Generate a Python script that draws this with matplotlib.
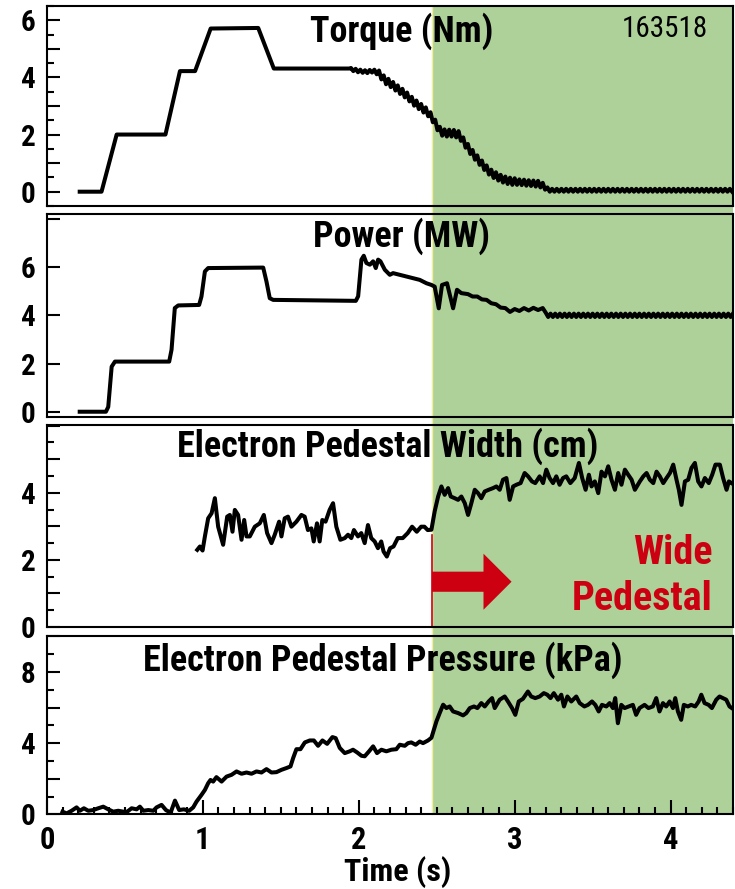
import matplotlib
matplotlib.use("Agg")
import matplotlib.pyplot as plt
import numpy as np
from matplotlib import transforms
from matplotlib.patches import Rectangle
from matplotlib.lines import Line2D
from matplotlib.ticker import MultipleLocator, FuncFormatter

plt.rcParams['font.family'] = ['Roboto Condensed', 'DejaVu Sans']
plt.rcParams['font.weight'] = 'bold'

SHOT = "163518"
T_WIDE = 2.47      # start of the wide pedestal phase (s)
T_END = 4.4
GREEN = '#aed19a'
RED = '#cc0011'

# --- Torque (Nm): ramp-up, then sampled every 15 ms once the modulation starts
torque_t = [0.21, 0.35, 0.447, 0.76, 0.853, 0.95, 1.05, 1.355, 1.455, 1.94]
torque_v = [0.0, 0.0, 2.0, 2.0, 4.22, 4.22, 5.71, 5.73, 4.31, 4.31]
torque_mod_t0 = 1.95
torque_mod_dt = 0.015
torque_mod_v = [
    4.33, 4.22, 4.30, 4.18, 4.27, 4.16, 4.25, 4.15, 4.26, 4.17,
    4.27, 4.11, 4.24, 3.93, 4.07, 3.76, 3.95, 3.66, 3.84, 3.54,
    3.72, 3.42, 3.60, 3.30, 3.47, 3.16, 3.32, 3.01, 3.19, 2.89,
    3.07, 2.77, 2.95, 2.64, 2.78, 2.43, 2.52, 2.15, 2.27, 1.96,
    2.18, 1.93, 2.17, 1.93, 2.16, 1.90, 2.12, 1.78, 1.90, 1.54,
    1.67, 1.32, 1.46, 1.12, 1.27, 0.94, 1.09, 0.76, 0.92, 0.60,
    0.77, 0.48, 0.68, 0.39, 0.59, 0.32, 0.53, 0.27, 0.49, 0.24,
    0.47, 0.24, 0.43, 0.23, 0.42, 0.21, 0.40, 0.20, 0.39, 0.18,
    0.38, 0.15, 0.31, 0.07, 0.15, 0.00,
    0.10, 0.00, 0.10, 0.00, 0.10, 0.00, 0.10, 0.00, 0.10, 0.00,
    0.10, 0.00, 0.10, 0.00, 0.10, 0.00, 0.10, 0.00, 0.10, 0.00,
    0.10, 0.00, 0.10, 0.00, 0.10, 0.00, 0.10, 0.00, 0.10, 0.00,
    0.10, 0.00, 0.10, 0.00, 0.10, 0.00, 0.10, 0.00, 0.10, 0.00,
    0.10, 0.00, 0.10, 0.00, 0.10, 0.00, 0.10, 0.00, 0.10, 0.00,
    0.10, 0.00, 0.10, 0.00, 0.10, 0.00, 0.10, 0.00, 0.10, 0.00,
    0.10, 0.00, 0.10, 0.00, 0.10, 0.00, 0.10, 0.00, 0.10, 0.00,
    0.10, 0.00, 0.10, 0.00, 0.10, 0.00, 0.10, 0.00,
]

# --- Injected power (MW)
power_t = [0.21, 0.378, 0.393, 0.415, 0.436, 0.784, 0.799, 0.82, 0.842, 0.976,
           0.991, 1.013, 1.034, 1.387, 1.408, 1.429, 1.451, 1.981, 1.996, 2.017,
           2.032, 2.049, 2.071, 2.092, 2.109, 2.124, 2.139, 2.167, 2.199, 2.220,
           2.263, 2.306, 2.348, 2.391, 2.434, 2.466, 2.487, 2.513, 2.534, 2.566,
           2.605, 2.630, 2.658, 2.70, 2.73, 2.76, 2.79, 2.82, 2.85, 2.88,
           2.91, 2.94, 2.97, 3.00, 3.03, 3.06, 3.09, 3.12, 3.15, 3.18, 3.20]
power_v = [0.0, 0.0, 0.2, 1.87, 2.08, 2.08, 2.57, 4.30, 4.41, 4.43,
           4.78, 5.82, 5.96, 5.98, 5.40, 4.71, 4.64, 4.60, 4.79, 6.31,
           6.47, 6.17, 6.10, 6.24, 5.96, 6.31, 6.24, 5.89, 5.68, 5.75,
           5.68, 5.61, 5.54, 5.47, 5.33, 5.26, 5.19, 4.29, 5.26, 5.33,
           4.29, 5.06, 4.92, 4.88, 4.78, 4.78, 4.66, 4.64, 4.50, 4.46,
           4.32, 4.30, 4.14, 4.26, 4.18, 4.30, 4.20, 4.31, 4.22, 4.30, 4.10]
power_mod_t0 = 3.215
power_mod_dt = 0.015
power_mod_v = [
    3.93, 4.07, 3.93, 4.07, 3.93, 4.07, 3.93, 4.07, 3.93, 4.07,
    3.93, 4.07, 3.93, 4.07, 3.93, 4.07, 3.93, 4.07, 3.93, 4.07,
    3.93, 4.07, 3.93, 4.07, 3.93, 4.07, 3.93, 4.07, 3.93, 4.07,
    3.93, 4.07, 3.93, 4.07, 3.93, 4.07, 3.93, 4.07, 3.93, 4.07,
    3.93, 4.07, 3.93, 4.07, 3.93, 4.07, 3.93, 4.07, 3.93, 4.07,
    3.93, 4.07, 3.93, 4.07, 3.93, 4.07, 3.93, 4.07, 3.93, 4.07,
    3.93, 4.07, 3.93, 4.07, 3.93, 4.07, 3.93, 4.07, 3.93, 4.07,
    3.93, 4.07, 3.93, 4.07, 3.93, 4.07, 3.93, 4.07, 3.93, 4.07,
]

# --- Electron pedestal width (cm)
width_t = [0.964, 0.981, 0.998, 1.013, 1.034, 1.056, 1.077, 1.098, 1.130, 1.156,
           1.173, 1.190, 1.205, 1.226, 1.248, 1.265, 1.280, 1.301, 1.333, 1.365,
           1.391, 1.412, 1.440, 1.461, 1.489, 1.504, 1.525, 1.546, 1.568, 1.600,
           1.632, 1.653, 1.674, 1.696, 1.711, 1.732, 1.749, 1.766, 1.787, 1.813,
           1.835, 1.856, 1.882, 1.910, 1.931, 1.952, 1.969, 1.995, 2.016, 2.038,
           2.059, 2.080, 2.102, 2.123, 2.144, 2.159, 2.180, 2.201, 2.223, 2.250,
           2.282, 2.314, 2.342, 2.372, 2.400, 2.421, 2.442, 2.466, 2.487, 2.509,
           2.530, 2.551, 2.573, 2.590, 2.615, 2.637, 2.658, 2.680, 2.701, 2.722,
           2.744, 2.765, 2.786, 2.808, 2.833, 2.861, 2.883, 2.904, 2.925, 2.947,
           2.968, 2.990, 3.011, 3.038, 3.064, 3.086, 3.111, 3.132, 3.160, 3.182,
           3.203, 3.224, 3.246, 3.267, 3.288, 3.310, 3.331, 3.357, 3.385, 3.412,
           3.433, 3.455, 3.476, 3.493, 3.514, 3.536, 3.557, 3.579, 3.600, 3.621,
           3.643, 3.664, 3.685, 3.707, 3.728, 3.750, 3.771, 3.803, 3.825, 3.846,
           3.867, 3.889, 3.910, 3.931, 3.953, 3.974, 3.996, 4.017, 4.038, 4.053,
           4.070, 4.092, 4.113, 4.134, 4.156, 4.177, 4.198, 4.220, 4.245, 4.267,
           4.288, 4.316, 4.337, 4.359, 4.374, 4.391]
width_v = [2.30, 2.40, 2.28, 2.70, 3.24, 3.39, 3.84, 2.99, 2.45, 3.29,
           3.34, 2.84, 3.49, 3.34, 2.60, 3.19, 2.70, 2.70, 2.99, 3.09,
           3.34, 2.80, 2.50, 2.75, 3.14, 2.70, 3.24, 3.29, 2.99, 3.14,
           3.34, 3.29, 2.89, 2.94, 2.55, 3.09, 2.55, 3.19, 3.14, 3.49,
           3.69, 2.99, 2.60, 2.65, 2.75, 2.65, 2.89, 2.70, 2.80, 2.50,
           3.04, 2.65, 2.55, 2.35, 2.55, 2.25, 2.10, 2.35, 2.40, 2.65,
           2.65, 2.80, 2.99, 2.84, 2.99, 2.99, 2.89, 2.90, 3.45, 3.89,
           4.19, 3.94, 4.14, 3.89, 3.84, 3.79, 3.89, 3.69, 3.34, 3.69,
           4.09, 3.99, 3.84, 4.04, 4.09, 4.14, 4.19, 4.09, 4.39, 4.44,
           3.79, 4.19, 4.24, 4.29, 4.59, 4.49, 4.34, 4.29, 4.49, 4.29,
           4.69, 4.44, 4.29, 4.49, 4.24, 4.44, 4.49, 4.29, 4.44, 4.89,
           4.44, 4.09, 4.54, 4.19, 4.34, 3.99, 4.63, 4.49, 4.79, 4.39,
           4.09, 4.59, 4.24, 4.69, 4.54, 4.39, 4.09, 4.34, 4.49, 4.59,
           4.39, 4.29, 4.63, 4.49, 4.29, 4.44, 4.59, 4.84, 4.39, 4.09,
           3.64, 4.34, 4.39, 4.74, 4.89, 4.34, 4.19, 4.44, 4.29, 4.54,
           4.84, 4.84, 4.44, 4.09, 4.34, 4.29]

# --- Electron pedestal pressure (kPa)
pres_t = [0.100, 0.126, 0.158, 0.190, 0.211, 0.237, 0.265, 0.297, 0.329, 0.361,
          0.393, 0.425, 0.457, 0.489, 0.515, 0.543, 0.575, 0.596, 0.618, 0.650,
          0.682, 0.703, 0.735, 0.763, 0.793, 0.821, 0.848, 0.878, 0.912, 0.938,
          0.959, 0.991, 1.013, 1.034, 1.049, 1.066, 1.087, 1.120, 1.152, 1.184,
          1.216, 1.248, 1.280, 1.312, 1.344, 1.376, 1.408, 1.440, 1.472, 1.504,
          1.536, 1.562, 1.579, 1.600, 1.626, 1.654, 1.686, 1.712, 1.739, 1.767,
          1.797, 1.831, 1.852, 1.878, 1.910, 1.942, 1.963, 1.989, 2.017, 2.038,
          2.066, 2.092, 2.117, 2.145, 2.177, 2.209, 2.241, 2.263, 2.295, 2.316,
          2.337, 2.365, 2.391, 2.412, 2.444, 2.466, 2.487, 2.498, 2.519, 2.541,
          2.562, 2.583, 2.605, 2.637, 2.669, 2.690, 2.712, 2.739, 2.761, 2.786,
          2.808, 2.833, 2.855, 2.872, 2.904, 2.936, 2.957, 2.983, 3.004, 3.026,
          3.053, 3.085, 3.106, 3.132, 3.160, 3.187, 3.209, 3.230, 3.251, 3.278,
          3.299, 3.316, 3.338, 3.363, 3.395, 3.417, 3.447, 3.470, 3.496, 3.517,
          3.539, 3.560, 3.588, 3.609, 3.630, 3.645, 3.662, 3.684, 3.705, 3.731,
          3.758, 3.779, 3.801, 3.833, 3.858, 3.886, 3.908, 3.929, 3.951, 3.972,
          3.994, 4.015, 4.030, 4.047, 4.068, 4.085, 4.111, 4.132, 4.158, 4.180,
          4.197, 4.218, 4.244, 4.265, 4.293, 4.314, 4.335, 4.357, 4.378, 4.393]
pres_v = [0.15, 0.05, 0.20, 0.39, 0.20, 0.34, 0.20, 0.24, 0.34, 0.43,
          0.28, 0.15, 0.20, 0.15, 0.15, 0.34, 0.28, 0.43, 0.20, 0.24,
          0.20, 0.39, 0.53, 0.24, 0.09, 0.77, 0.24, 0.28, 0.20, 0.39,
          0.71, 1.09, 1.37, 1.75, 1.93, 1.84, 2.09, 1.84, 2.12, 2.22,
          2.41, 2.28, 2.35, 2.28, 2.41, 2.35, 2.54, 2.35, 2.37, 2.50,
          2.60, 2.69, 3.16, 3.66, 3.66, 4.04, 4.15, 4.15, 3.85, 4.15,
          3.96, 4.34, 4.28, 3.73, 3.44, 3.54, 3.63, 3.48, 3.29, 3.26,
          3.54, 3.82, 3.44, 3.63, 3.54, 3.63, 3.66, 3.91, 3.85, 4.00,
          4.04, 3.91, 4.09, 4.00, 4.15, 4.30, 4.90, 5.22, 5.69, 6.16,
          5.97, 6.06, 5.78, 5.69, 5.56, 5.69, 5.97, 6.06, 5.97, 6.25,
          6.06, 6.34, 6.53, 5.97, 6.44, 6.62, 6.34, 5.97, 5.59, 6.34,
          6.49, 6.90, 6.62, 6.53, 6.62, 6.81, 6.72, 6.53, 6.81, 6.44,
          6.72, 6.06, 6.62, 6.34, 6.62, 6.25, 6.06, 6.15, 6.34, 6.15,
          5.78, 6.15, 6.06, 6.25, 5.97, 6.53, 5.12, 6.15, 5.97, 6.06,
          6.15, 5.59, 5.97, 6.15, 5.97, 6.06, 6.53, 5.78, 6.25, 6.06,
          6.34, 5.97, 6.53, 5.78, 5.31, 6.15, 6.06, 6.15, 6.06, 6.34,
          6.72, 6.25, 6.15, 5.97, 6.44, 6.62, 6.53, 6.44, 6.06, 5.97]


def sampled(t0, dt, values):
    return t0 + dt * np.arange(len(values))


torque_x = np.concatenate([torque_t, sampled(torque_mod_t0, torque_mod_dt, torque_mod_v)])
torque_y = np.concatenate([torque_v, torque_mod_v])
power_x = np.concatenate([power_t, sampled(power_mod_t0, power_mod_dt, power_mod_v)])
power_y = np.concatenate([power_v, power_mod_v])

# per panel: data, ylim, major step, minor step, labelled ticks, title and its spot
panels = [
    (torque_x, torque_y, (-0.5, 6.5), 1, 0.5, {0, 2, 4, 6}, 'Torque (Nm)', 0.517, 0.82),
    (power_x, power_y, (-0.22, 8.2), 2, None, {0, 2, 4, 6}, 'Power (MW)', 0.517, 0.839),
    (width_t, width_v, (0, 6.02), 1, 0.5, {0, 2, 4}, 'Electron Pedestal Width (cm)', 0.496, 0.842),
    (pres_t, pres_v, (0, 10), 2, 1, {0, 4, 8}, 'Electron Pedestal Pressure (kPa)', 0.489, 0.807),
]
boxes = [(0.7683, 0.2250), (0.5309, 0.2283), (0.2947, 0.2272), (0.0840, 0.2002)]
left, width = 0.0639, 0.9333

fig = plt.figure(figsize=(7.35, 8.89), dpi=100)
axes = []
for (x, y, ylim, major, minor, shown, title, tx, ty), (bottom, height) in zip(panels, boxes):
    ax = fig.add_axes([left, bottom, width, height])
    ax.set_facecolor('none')
    ax.plot(x, y, color='black', lw=2.9, solid_joinstyle='round', zorder=3)
    ax.set_xlim(0, T_END)
    ax.set_ylim(*ylim)
    for s in ax.spines.values():
        s.set_linewidth(1.5)
    ax.yaxis.set_major_locator(MultipleLocator(major))
    if minor:
        ax.yaxis.set_minor_locator(MultipleLocator(minor))
    ax.yaxis.set_major_formatter(FuncFormatter(
        lambda v, p, shown=shown: str(int(round(v))) if int(round(v)) in shown else ''))
    ax.tick_params(axis='y', which='major', direction='in', length=9.5, width=1.5,
                   labelsize=21, pad=8)
    ax.tick_params(axis='y', which='minor', direction='in', length=5, width=1.5)
    ax.tick_params(axis='x', which='both', bottom=False, labelbottom=False)
    ax.text(tx, ty, title, transform=ax.transAxes, ha='center', va='baseline',
            fontsize=26, fontweight='bold', zorder=4)
    axes.append(ax)

ax1, ax2, ax3, ax4 = axes
ax1.text(0.901, 0.845, SHOT, transform=ax1.transAxes, ha='center', va='baseline',
         fontsize=21, fontweight='normal')

# time axis on the bottom panel only
ax4.xaxis.set_major_locator(MultipleLocator(1))
ax4.xaxis.set_minor_locator(MultipleLocator(0.1))
ax4.tick_params(axis='x', which='major', bottom=True, labelbottom=True, direction='in',
                length=10, width=1.5, labelsize=22, pad=8)
ax4.tick_params(axis='x', which='minor', bottom=True, direction='in', length=5, width=1.5)
ax4.set_xlabel('Time (s)', fontsize=23, fontweight='bold')
ax4.xaxis.set_label_coords(0.511, -0.235)

# shaded wide-pedestal window running through all four panels
y_lo = boxes[-1][0]
y_hi = boxes[0][0] + boxes[0][1]
blend = transforms.blended_transform_factory(ax4.transData, fig.transFigure)
fig.add_artist(Rectangle((T_WIDE, y_lo), T_END - T_WIDE, y_hi - y_lo, transform=blend,
                         facecolor=GREEN, edgecolor='none', zorder=-1))
fig.add_artist(Line2D([T_WIDE, T_WIDE], [y_lo, y_hi], transform=blend,
                      color='#f3ef9c', lw=1.0, zorder=-0.5))

# onset marker and annotation in the width panel
ax3.plot([T_WIDE, T_WIDE], [0, 2.75], color=RED, lw=1.2, zorder=2)
ax3.arrow(T_WIDE, 1.35, 0.51, 0, width=0.6, head_width=1.67, head_length=0.18,
          length_includes_head=True, color=RED, lw=0, zorder=2)
ax3.text(4.27, 0.51, 'Wide\nPedestal', color=RED, ha='right', va='baseline',
         multialignment='right', fontsize=29, fontweight='bold', linespacing=1.27)

fig.savefig('out.png', dpi=100)
